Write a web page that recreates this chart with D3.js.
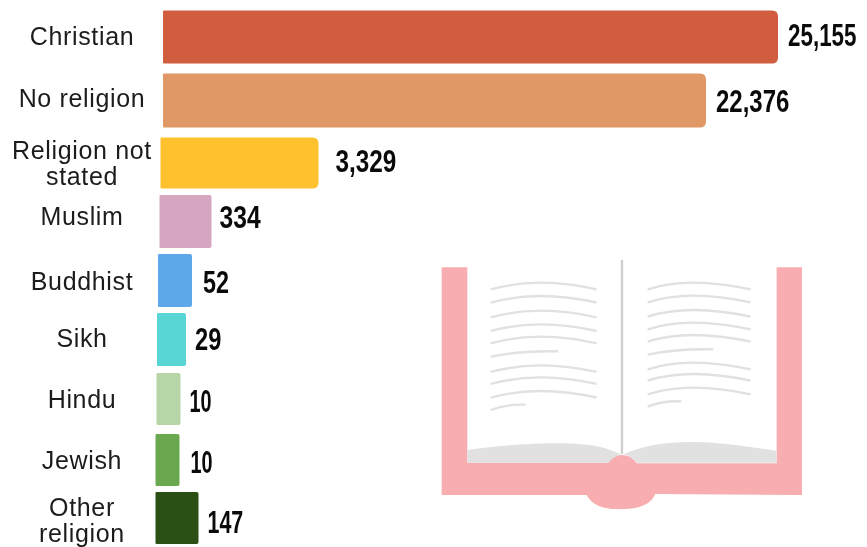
<!DOCTYPE html>
<html>
<head>
<meta charset="utf-8">
<script src="https://cdn.jsdelivr.net/npm/d3@7"></script>
<style>
html,body{margin:0;padding:0;background:#fff}
svg{display:block;filter:blur(.35px)}
.cat{font-family:"Liberation Sans",Arial,sans-serif;font-size:25px;letter-spacing:.65px;fill:#1c1c1c;text-anchor:middle}
.val{font-family:"Liberation Sans Narrow","Liberation Sans",sans-serif;font-weight:700;font-size:32px;fill:#0a0a0a}
</style>
</head>
<body>
<svg id="c" width="867" height="547"></svg>
<script>
const categories = ["Christian","No religion","Religion not stated","Muslim","Buddhist","Sikh","Hindu","Jewish","Other religion"];
const values = [25155,22376,3329,334,52,29,10,10,147];
const colors = ["#cf5d3e","#e09866","#ffc12e","#d6a5bf","#5ea8ea","#58d6d6","#b7d6a8","#6aa84f","#2a5016"];
const labelLines = [["Christian"],["No religion"],["Religion not","stated"],["Muslim"],["Buddhist"],["Sikh"],["Hindu"],["Jewish"],["Other","religion"]];

const svg = d3.select("#c");

// The source is a hand-made pictogram: bar length is not linear in the value.
const barEnd = d3.scaleLinear()
  .domain([10,29,52,147,334,3329,22376,25155])
  .range([24,29,34,43,52,158,543,615]);
const barLeft = d3.scaleOrdinal().domain(categories).range([163,163,160.5,159.5,158,157,156.5,155.5,155.5]);
const barTop = d3.scaleOrdinal().domain(categories).range([10.5,73.5,137.5,195,254,313,373,434,492]);
const barH = d3.scaleOrdinal().domain(categories).range([53,54,51,53,53,53,52,52,52]);
const labelGap = d3.scaleOrdinal().domain(categories).range([10,10,17,8,11,9,9,11,9]);
const labelBase = d3.scaleOrdinal().domain(categories).range([45,107,159,225,290,347,408,469,516]);
const valueBase = d3.scaleOrdinal().domain(categories).range([46,111.5,172,228,293,350,412,472.5,532.5]);
const valueSqueeze = d3.scaleOrdinal().domain(categories).range([.7,.75,.76,.77,.73,.74,.62,.62,.67]);

const rows = categories.map((c,i)=>({c,v:values[i],col:colors[i],lines:labelLines[i]}));

function barPath(d){
  const x=barLeft(d.c), y=barTop(d.c), w=barEnd(d.v), h=barH(d.c);
  const r=d.v>1000?6:2, l=1;
  const p=d3.path();
  p.moveTo(x+l,y);
  p.lineTo(x+w-r,y);
  p.quadraticCurveTo(x+w,y,x+w,y+r);
  p.lineTo(x+w,y+h-r);
  p.quadraticCurveTo(x+w,y+h,x+w-r,y+h);
  p.lineTo(x+l,y+h);
  p.quadraticCurveTo(x,y+h,x,y+h-l);
  p.lineTo(x,y+l);
  p.quadraticCurveTo(x,y,x+l,y);
  p.closePath();
  return p.toString();
}
svg.append("g").selectAll("path").data(rows).join("path")
  .attr("d",barPath)
  .attr("fill",d=>d.col);

const fmt = d3.format(",");
svg.append("g").selectAll("text").data(rows).join("text")
  .attr("class","val")
  .attr("transform",d=>`translate(${barLeft(d.c)+barEnd(d.v)+labelGap(d.c)},${valueBase(d.c)}) scale(${valueSqueeze(d.c)},1)`)
  .text(d=>fmt(d.v));

const cat = svg.append("g").selectAll("text").data(rows).join("text")
  .attr("class","cat")
  .attr("x",82)
  .attr("y",d=>labelBase(d.c));
cat.selectAll("tspan").data(d=>d.lines).join("tspan")
  .attr("x",82)
  .attr("dy",(d,i)=>i?26:0)
  .text(d=>d);

// Decorative open-book illustration
const book = svg.append("g").attr("transform","translate(430,250) scale(.3333)");
const leftLineEnds = [[118,500],[158,500],[202,500],[243,500],[280,500],[320,385],[366,500],[402,500],[443,500],[480,287]];
const rightLineEnds = [[118,962],[157,962],[200,962],[238,962],[275,962],[314,850],[358,962],[392,962],[433,962],[470,754]];

book.append("path").attr("fill","#f8aeb0")
  .attr("d","M35 52H112V638H535C545 620 560 615 575 615C595 615 612 625 620 640H1040V52H1116V735L675 732C665 765 620 778 570 778C520 778 485 765 470 735H35Z");
book.append("path").attr("fill","#e1e1e1")
  .attr("d","M112 600C250 582 340 578 400 580C480 582 530 590 574 615C560 618 545 625 535 638H112Z");
book.append("path").attr("fill","#e1e1e1")
  .attr("d","M580 613C640 585 720 575 790 576C880 578 960 590 1040 603V638H620C612 625 595 616 580 613Z");
book.append("line").attr("x1",576).attr("x2",576).attr("y1",30).attr("y2",612)
  .attr("stroke","#cfcfcf").attr("stroke-width",7);

const line = (x0,[y,x1])=>{
  const w = x1-x0;
  return w>250
    ? `M${x0} ${y}Q${(x0+x1)*.48} ${y-40} ${x1} ${y}`
    : `M${x0} ${y}Q${x0+w*.45} ${y-18} ${x1} ${y-16}`;
};
book.append("g").attr("fill","none").attr("stroke","#e1e1e1").attr("stroke-width",7)
  .selectAll("path")
  .data([...leftLineEnds.map(e=>line(182,e)),...rightLineEnds.map(e=>line(653,e))])
  .join("path").attr("d",d=>d);
</script>
</body>
</html>
